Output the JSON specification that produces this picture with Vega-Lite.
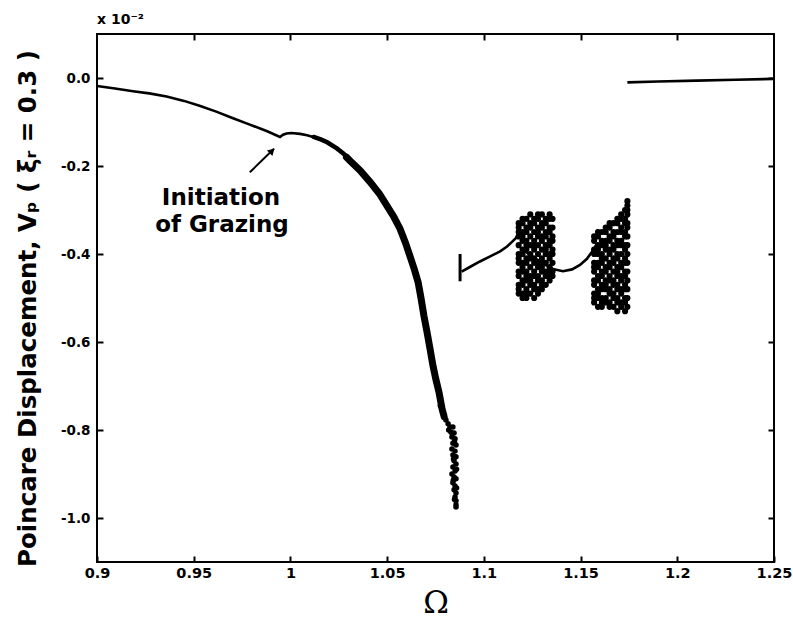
{
  "$schema": "https://vega.github.io/schema/vega-lite/v6.json",
  "autosize": {"type": "none"},
  "width": 677,
  "height": 528,
  "padding": {"left": 97, "top": 34, "right": 19, "bottom": 64},
  "background": "white",
  "config": {
    "view": {"stroke": "black", "strokeWidth": 2},
    "font": "DejaVu Sans"
  },
  "title": {"text": "x 10⁻²", "anchor": "start", "frame": "group", "font": "DejaVu Sans", "fontSize": 14, "fontWeight": "bold", "color": "black", "offset": 6},
  "datasets": {
    "lines": [
      {"seg": "main", "om": 0.9, "v": -0.018}, {"seg": "main", "om": 0.9093, "v": -0.024}, {"seg": "main", "om": 0.9186, "v": -0.030},
      {"seg": "main", "om": 0.927, "v": -0.035}, {"seg": "main", "om": 0.936, "v": -0.042}, {"seg": "main", "om": 0.945, "v": -0.052},
      {"seg": "main", "om": 0.953, "v": -0.063}, {"seg": "main", "om": 0.962, "v": -0.077}, {"seg": "main", "om": 0.970, "v": -0.091},
      {"seg": "main", "om": 0.979, "v": -0.106}, {"seg": "main", "om": 0.988, "v": -0.121}, {"seg": "main", "om": 0.9946, "v": -0.134},
      {"seg": "main", "om": 0.9962, "v": -0.129}, {"seg": "main", "om": 0.998, "v": -0.126}, {"seg": "main", "om": 1.0005, "v": -0.125},
      {"seg": "main", "om": 1.005, "v": -0.127}, {"seg": "main", "om": 1.0086, "v": -0.130}, {"seg": "main", "om": 1.014, "v": -0.137},
      {"seg": "band0", "om": 1.012, "v": -0.134}, {"seg": "band0", "om": 1.016, "v": -0.140}, {"seg": "band0", "om": 1.019, "v": -0.146},
      {"seg": "band0", "om": 1.024, "v": -0.160}, {"seg": "band0", "om": 1.0275, "v": -0.172}, {"seg": "band0", "om": 1.0308, "v": -0.188},
      {"seg": "band0", "om": 1.034, "v": -0.201},
      {"seg": "band", "om": 1.029, "v": -0.180}, {"seg": "band", "om": 1.0308, "v": -0.188}, {"seg": "band", "om": 1.036, "v": -0.210},
      {"seg": "band", "om": 1.0411, "v": -0.236}, {"seg": "band", "om": 1.046, "v": -0.263}, {"seg": "band", "om": 1.050, "v": -0.291},
      {"seg": "band", "om": 1.0535, "v": -0.316}, {"seg": "band", "om": 1.0567, "v": -0.343}, {"seg": "band", "om": 1.0595, "v": -0.375},
      {"seg": "band", "om": 1.0618, "v": -0.405}, {"seg": "band", "om": 1.064, "v": -0.434}, {"seg": "band", "om": 1.066, "v": -0.464},
      {"seg": "band", "om": 1.0675, "v": -0.500}, {"seg": "band", "om": 1.069, "v": -0.540}, {"seg": "band", "om": 1.0706, "v": -0.577},
      {"seg": "band", "om": 1.0722, "v": -0.616}, {"seg": "band", "om": 1.0737, "v": -0.654}, {"seg": "band", "om": 1.0752, "v": -0.685},
      {"seg": "band", "om": 1.0768, "v": -0.714}, {"seg": "band", "om": 1.0784, "v": -0.752}, {"seg": "band", "om": 1.0795, "v": -0.770},
      {"seg": "bar", "om": 1.0877, "v": -0.400}, {"seg": "bar", "om": 1.0877, "v": -0.462},
      {"seg": "per", "om": 1.0885, "v": -0.440}, {"seg": "per", "om": 1.093, "v": -0.429}, {"seg": "per", "om": 1.098, "v": -0.417},
      {"seg": "per", "om": 1.103, "v": -0.406}, {"seg": "per", "om": 1.1084, "v": -0.394}, {"seg": "per", "om": 1.112, "v": -0.383},
      {"seg": "per", "om": 1.1144, "v": -0.373}, {"seg": "per", "om": 1.1165, "v": -0.364}, {"seg": "per", "om": 1.1178, "v": -0.355},
      {"seg": "mid", "om": 1.1197, "v": -0.389}, {"seg": "mid", "om": 1.125, "v": -0.405}, {"seg": "mid", "om": 1.130, "v": -0.420},
      {"seg": "mid", "om": 1.1357, "v": -0.434}, {"seg": "mid", "om": 1.1409, "v": -0.439}, {"seg": "mid", "om": 1.1456, "v": -0.435},
      {"seg": "mid", "om": 1.1497, "v": -0.425}, {"seg": "mid", "om": 1.1533, "v": -0.411}, {"seg": "mid", "om": 1.1559, "v": -0.395},
      {"seg": "mid", "om": 1.158, "v": -0.380},
      {"seg": "flat", "om": 1.1742, "v": -0.010}, {"seg": "flat", "om": 1.19, "v": -0.008}, {"seg": "flat", "om": 1.21, "v": -0.006},
      {"seg": "flat", "om": 1.23, "v": -0.004}, {"seg": "flat", "om": 1.25, "v": -0.002}
    ],
    "tail": [
      {"om": 1.0794, "v": -0.766}, {"om": 1.0804, "v": -0.777}, {"om": 1.0815, "v": -0.786}, {"om": 1.0825, "v": -0.793},
      {"om": 1.0840, "v": -0.793}, {"om": 1.0830, "v": -0.805}, {"om": 1.0846, "v": -0.807}, {"om": 1.0835, "v": -0.816},
      {"om": 1.0851, "v": -0.820}, {"om": 1.0840, "v": -0.830}, {"om": 1.0856, "v": -0.834}, {"om": 1.0835, "v": -0.843},
      {"om": 1.0851, "v": -0.848}, {"om": 1.0840, "v": -0.857}, {"om": 1.0856, "v": -0.861}, {"om": 1.0846, "v": -0.870},
      {"om": 1.0856, "v": -0.877}, {"om": 1.0840, "v": -0.884}, {"om": 1.0851, "v": -0.893}, {"om": 1.0835, "v": -0.900},
      {"om": 1.0846, "v": -0.907}, {"om": 1.0856, "v": -0.911}, {"om": 1.0840, "v": -0.920}, {"om": 1.0851, "v": -0.927},
      {"om": 1.0846, "v": -0.936}, {"om": 1.0856, "v": -0.943}, {"om": 1.0851, "v": -0.952}, {"om": 1.0856, "v": -0.961},
      {"om": 1.0856, "v": -0.970}, {"om": 1.0856, "v": -0.975},
      {"om": 1.0818, "v": -0.800}, {"om": 1.0848, "v": -0.826}, {"om": 1.0843, "v": -0.866}, {"om": 1.0859, "v": -0.889},
      {"om": 1.0842, "v": -0.914}, {"om": 1.0859, "v": -0.932}, {"om": 1.0848, "v": -0.958}, {"om": 1.0775, "v": -0.745}
    ],
    "chaos": [
      {"om": 1.1180, "vs": [-0.33,-0.34,-0.35,-0.36,-0.38,-0.40,-0.41,-0.42,-0.44,-0.45,-0.47,-0.48,-0.49]},
      {"om": 1.1200, "vs": [-0.32,-0.33,-0.35,-0.36,-0.37,-0.39,-0.40,-0.42,-0.43,-0.44,-0.46,-0.47,-0.49,-0.50]},
      {"om": 1.1220, "vs": [-0.32,-0.34,-0.35,-0.37,-0.38,-0.39,-0.41,-0.42,-0.44,-0.45,-0.46,-0.48,-0.49,-0.50]},
      {"om": 1.1240, "vs": [-0.31,-0.33,-0.34,-0.36,-0.38,-0.40,-0.41,-0.43,-0.45,-0.46,-0.47,-0.49]},
      {"om": 1.1260, "vs": [-0.32,-0.33,-0.35,-0.37,-0.38,-0.39,-0.41,-0.42,-0.44,-0.45,-0.47,-0.48,-0.50]},
      {"om": 1.1280, "vs": [-0.31,-0.32,-0.34,-0.35,-0.36,-0.38,-0.40,-0.42,-0.43,-0.45,-0.46,-0.48,-0.49]},
      {"om": 1.1300, "vs": [-0.31,-0.33,-0.34,-0.36,-0.37,-0.39,-0.41,-0.42,-0.43,-0.44,-0.46,-0.47,-0.48]},
      {"om": 1.1320, "vs": [-0.32,-0.33,-0.35,-0.36,-0.38,-0.39,-0.40,-0.42,-0.44,-0.45,-0.47]},
      {"om": 1.1340, "vs": [-0.31,-0.32,-0.34,-0.35,-0.37,-0.38,-0.40,-0.41,-0.43,-0.44,-0.45,-0.46]},
      {"om": 1.1355, "vs": [-0.32,-0.34,-0.36,-0.37,-0.39,-0.40,-0.42,-0.44,-0.45]},
      {"om": 1.1570, "vs": [-0.36,-0.37,-0.39,-0.40,-0.42,-0.43,-0.44,-0.46,-0.47,-0.49,-0.50,-0.51]},
      {"om": 1.1590, "vs": [-0.35,-0.36,-0.38,-0.39,-0.40,-0.42,-0.43,-0.45,-0.46,-0.48,-0.49,-0.50,-0.52]},
      {"om": 1.1610, "vs": [-0.35,-0.37,-0.38,-0.40,-0.41,-0.42,-0.44,-0.45,-0.47,-0.48,-0.50,-0.51,-0.52]},
      {"om": 1.1630, "vs": [-0.34,-0.35,-0.37,-0.38,-0.39,-0.41,-0.43,-0.44,-0.46,-0.47,-0.48,-0.50,-0.51]},
      {"om": 1.1650, "vs": [-0.33,-0.34,-0.36,-0.37,-0.39,-0.40,-0.42,-0.43,-0.45,-0.46,-0.48,-0.49,-0.51,-0.52]},
      {"om": 1.1670, "vs": [-0.33,-0.35,-0.36,-0.38,-0.39,-0.41,-0.42,-0.44,-0.46,-0.47,-0.49,-0.50,-0.52]},
      {"om": 1.1690, "vs": [-0.32,-0.33,-0.35,-0.37,-0.38,-0.40,-0.41,-0.43,-0.44,-0.45,-0.47,-0.48,-0.50,-0.51,-0.53]},
      {"om": 1.1710, "vs": [-0.31,-0.32,-0.34,-0.35,-0.37,-0.38,-0.40,-0.42,-0.43,-0.45,-0.46,-0.48,-0.49,-0.51,-0.52]},
      {"om": 1.1730, "vs": [-0.30,-0.32,-0.33,-0.35,-0.36,-0.38,-0.39,-0.41,-0.42,-0.44,-0.45,-0.47,-0.48,-0.50,-0.51,-0.53]},
      {"om": 1.1742, "vs": [-0.28,-0.29,-0.30,-0.31,-0.33,-0.34,-0.36,-0.38,-0.40,-0.42,-0.44,-0.46,-0.48,-0.50,-0.52]}
    ],
    "notes": [
      {"om": 0.9641, "v": -0.273, "label": "Initiation"},
      {"om": 0.9646, "v": -0.333, "label": "of Grazing"}
    ],
    "arrow": [
      {"om": 0.9790, "v": -0.2143, "om2": 0.9915, "v2": -0.1610}
    ],
    "tip": [
      {"om": 0.9905, "v": -0.1655}
    ]
  },
  "encoding": {
    "x": {"field": "om", "type": "quantitative", "scale": {"domain": [0.9, 1.25], "nice": false, "zero": false}, "axis": null},
    "y": {"field": "v", "type": "quantitative", "scale": {"domain": [-1.1, 0.1], "nice": false, "zero": false}, "axis": null}
  },
  "layer": [
    {
      "data": {"name": "lines"},
      "transform": [{"filter": "datum.seg === 'main' || datum.seg === 'per' || datum.seg === 'mid' || datum.seg === 'flat'"}],
      "mark": {"type": "line", "color": "black", "strokeWidth": 2.6},
      "encoding": {
        "detail": {"field": "seg"},
        "x": {"field": "om", "type": "quantitative", "axis": {
          "orient": "bottom", "values": [0.9, 0.95, 1, 1.05, 1.1, 1.15, 1.2, 1.25], "format": ".2~f",
          "domain": false, "ticks": true, "tickSize": -6, "tickWidth": 2, "tickColor": "black",
          "labelFont": "DejaVu Sans", "labelFontWeight": "bold", "labelFontSize": 14.5, "labelColor": "black", "labelPadding": 10,
          "labelFlush": false, "labelOverlap": false, "grid": false,
          "title": "Ω", "titleFont": "DejaVu Serif", "titleFontWeight": "normal", "titleFontSize": 31, "titleColor": "black", "titlePadding": 9
        }},
        "y": {"field": "v", "type": "quantitative", "axis": {
          "orient": "left", "values": [-1.0, -0.8, -0.6, -0.4, -0.2, 0],
          "labelExpr": "replace(format(datum.value, '.1f'), '\u2212', '-')",
          "domain": false, "ticks": true, "tickSize": -6, "tickWidth": 2, "tickColor": "black",
          "labelFont": "DejaVu Sans", "labelFontWeight": "bold", "labelFontSize": 13.5, "labelColor": "black", "labelPadding": 13,
          "labelFlush": false, "labelOverlap": false, "grid": false,
          "title": "Poincare Displacement, Vₚ ( ξᵣ = 0.3 )", "titleFont": "DejaVu Sans", "titleFontWeight": "bold", "titleFontSize": 24.5, "titleColor": "black", "titlePadding": 20, "titleY": 274
        }}
      }
    },
    {
      "data": {"name": "lines"},
      "transform": [{"filter": "datum.seg === 'bar'"}],
      "mark": {"type": "line", "color": "black", "strokeWidth": 3},
      "encoding": {
        "detail": {"field": "seg"},
        "x": {"field": "om", "type": "quantitative", "axis": {
          "orient": "top", "values": [0.95, 1, 1.05, 1.1, 1.15, 1.2], "labels": false, "domain": false,
          "tickSize": -6, "tickWidth": 2, "tickColor": "black", "grid": false, "title": null
        }},
        "y": {"field": "v", "type": "quantitative", "axis": {
          "orient": "right", "values": [-1.0, -0.8, -0.6, -0.4, -0.2, 0], "labels": false, "domain": false,
          "tickSize": -6, "tickWidth": 2, "tickColor": "black", "grid": false, "title": null
        }}
      }
    },
    {
      "data": {"name": "lines"},
      "transform": [{"filter": "datum.seg === 'band0'"}],
      "mark": {"type": "line", "color": "black", "strokeWidth": 4.5, "strokeCap": "round"},
      "encoding": {"detail": {"field": "seg"}}
    },
    {
      "data": {"name": "lines"},
      "transform": [{"filter": "datum.seg === 'band'"}],
      "mark": {"type": "line", "color": "black", "strokeWidth": 7, "strokeCap": "round"},
      "encoding": {"detail": {"field": "seg"}}
    },
    {
      "data": {"name": "tail"},
      "mark": {"type": "point", "shape": "circle", "filled": true, "color": "black", "size": 30, "opacity": 1}
    },
    {
      "data": {"name": "chaos"},
      "transform": [{"flatten": ["vs"], "as": ["v"]}],
      "mark": {"type": "point", "shape": "circle", "filled": true, "color": "black", "size": 38, "opacity": 1}
    },
    {
      "data": {"name": "notes"},
      "mark": {"type": "text", "font": "DejaVu Sans", "fontWeight": "bold", "fontSize": 23, "color": "black", "align": "center", "baseline": "middle"},
      "encoding": {"text": {"field": "label"}}
    },
    {
      "data": {"name": "arrow"},
      "mark": {"type": "rule", "color": "black", "strokeWidth": 2},
      "encoding": {
        "x2": {"field": "om2"},
        "y2": {"field": "v2"}
      }
    },
    {
      "data": {"name": "tip"},
      "mark": {"type": "point", "shape": "triangle-up", "filled": true, "color": "black", "size": 60, "angle": 45, "opacity": 1}
    }
  ],
  "resolve": {"axis": {"x": "independent", "y": "independent"}}
}
